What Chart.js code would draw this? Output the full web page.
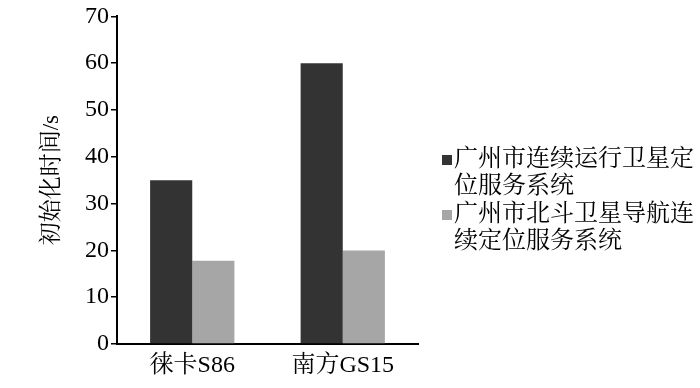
<!DOCTYPE html>
<html>
<head>
<meta charset="utf-8">
<script src="https://cdn.jsdelivr.net/npm/chart.js@4"></script>
<style>
  html, body { margin: 0; padding: 0; background: #fff; }
  #wrap { width: 700px; height: 388px; position: relative; }
</style>
</head>
<body>
<div id="wrap"><canvas id="chart"></canvas></div>
<script>
// data
const categories = ['徕卡S86', '南方GS15'];
const seriesNames = [
    ['广州市连续运行卫星定', '位服务系统'],
    ['广州市北斗卫星导航连', '续定位服务系统']
];
const cosValues = [35, 60];      // 广州市连续运行卫星定位服务系统
const beidouValues = [17.8, 20]; // 广州市北斗卫星导航连续定位服务系统
const yTicks = [0, 10, 20, 30, 40, 50, 60, 70];

const serif = "'Liberation Serif', 'Noto Serif CJK SC', 'Noto Sans CJK SC', serif";

// legend drawn by hand so the labels can wrap onto two lines
const sideLegend = {
    id: 'sideLegend',
    afterDraw(chart) {
        const ctx = chart.ctx;
        const x = 442;
        const starts = [160, 215];
        ctx.save();
        ctx.font = "24px " + serif;
        ctx.textBaseline = 'middle';
        chart.data.datasets.forEach((ds, i) => {
            const y = starts[i];
            ctx.fillStyle = ds.backgroundColor;
            ctx.fillRect(x, y - 5, 10, 10);
            ctx.fillStyle = '#000';
            ds.label.forEach((line, j) => {
                ctx.fillText(line, x + 12, y + j * 27);
            });
        });
        ctx.restore();
    }
};

new Chart(document.getElementById('chart'), {
    type: 'bar',
    data: {
        labels: categories,
        datasets: [
            {
                label: seriesNames[0],
                data: cosValues,
                backgroundColor: '#333333',
                barPercentage: 1,
                categoryPercentage: 0.56
            },
            {
                label: seriesNames[1],
                data: beidouValues,
                backgroundColor: '#a6a6a6',
                barPercentage: 1,
                categoryPercentage: 0.56
            }
        ]
    },
    options: {
        responsive: true,
        maintainAspectRatio: false,
        animation: false,
        layout: { padding: { left: 0, top: 14, right: 282, bottom: 0 } },
        plugins: {
            legend: { display: false },
            tooltip: { enabled: false }
        },
        scales: {
            x: {
                grid: { drawOnChartArea: false, drawTicks: false },
                border: { color: '#000', width: 2 },
                ticks: {
                    color: '#000',
                    padding: 7,
                    font: { family: serif, size: 24 }
                },
                afterFit(scale) { scale.height = 44; }
            },
            y: {
                min: 0,
                max: 70,
                afterBuildTicks(scale) {
                    scale.ticks = yTicks.map(v => ({ value: v }));
                },
                grid: { drawOnChartArea: false, drawTicks: true, tickLength: 6, color: '#000', lineWidth: 1.5 },
                border: { color: '#000', width: 2 },
                ticks: {
                    color: '#000',
                    padding: 2,
                    font: { family: serif, size: 24 }
                },
                title: {
                    display: true,
                    text: '初始化时间/s',
                    color: '#000',
                    padding: { top: 38, bottom: 0 },
                    font: { family: serif, size: 23 }
                },
                afterFit(scale) { scale.width = 117; }
            }
        }
    },
    plugins: [sideLegend]
});
</script>
</body>
</html>
